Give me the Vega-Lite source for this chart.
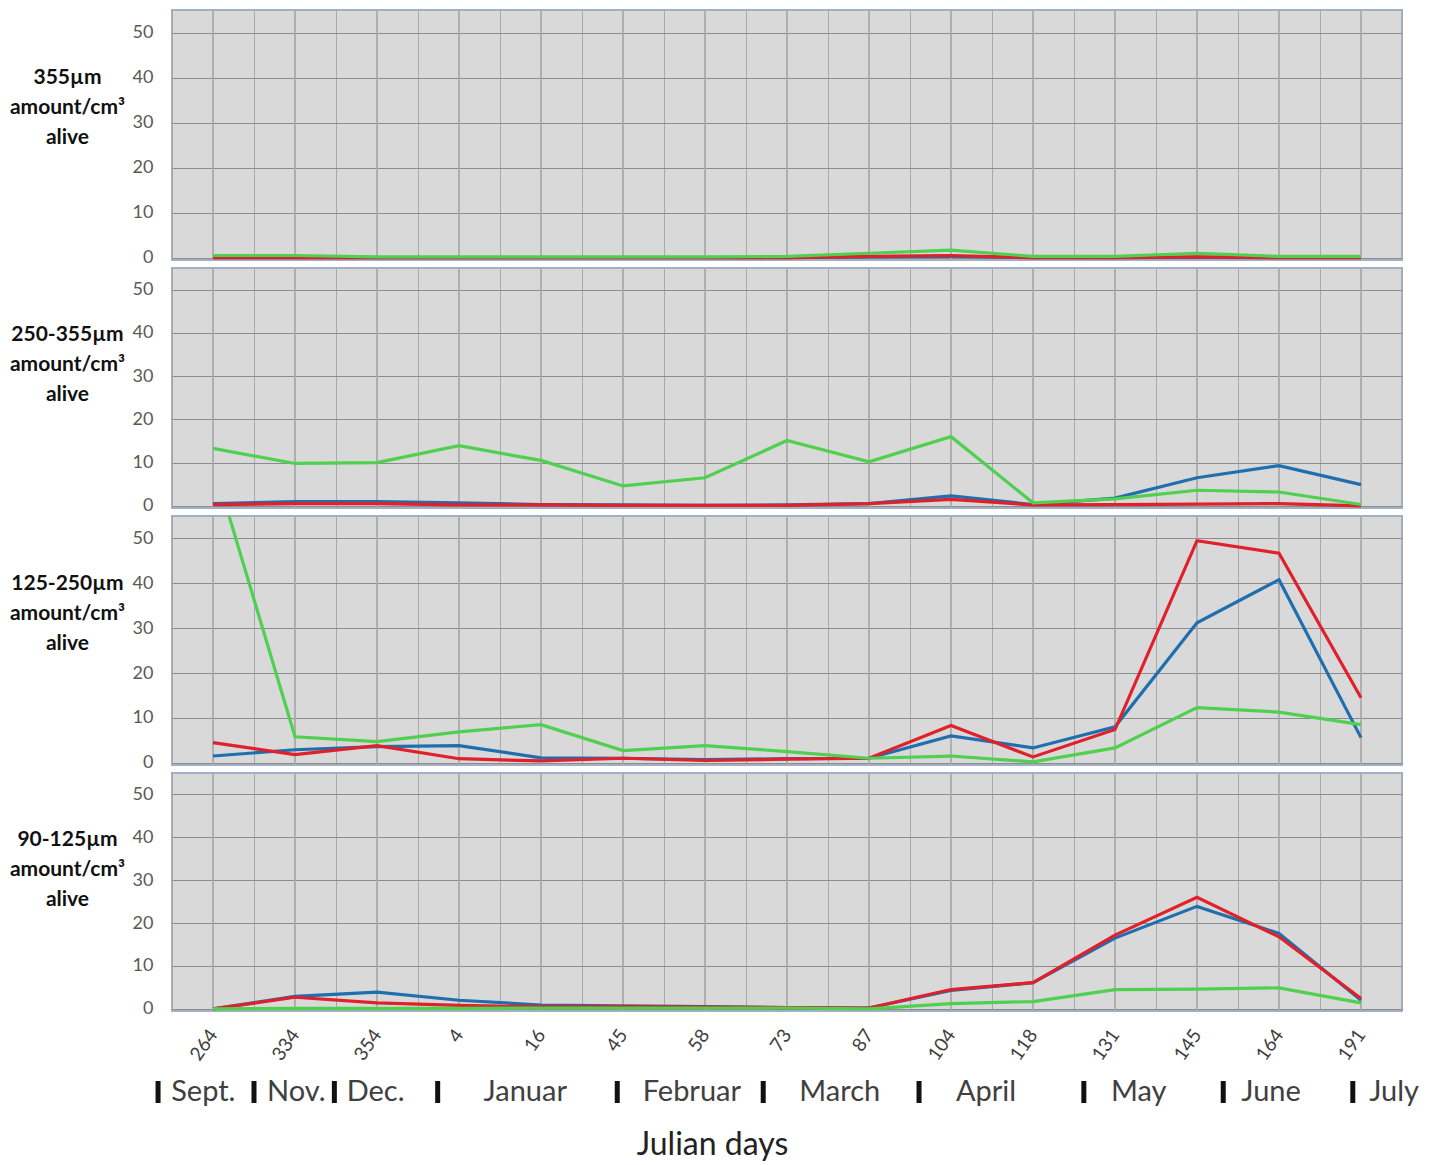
{
  "$schema": "https://vega.github.io/schema/vega-lite/v6.json",
  "background": "white",
  "padding": {"left": 8, "top": 8, "right": 5, "bottom": 5},
  "config": {
    "font": "Lato",
    "view": {"fill": "#d9d9d9", "stroke": "#a3b0c4", "strokeWidth": 2},
    "axis": {"labelFlush": false, "labelOverlap": false}
  },
  "datasets": {
    "months": [
      {"month": "Sept.", "bar": -0.67, "tpos": -0.51},
      {"month": "Nov.", "bar": 0.5, "tpos": 0.66},
      {"month": "Dec.", "bar": 1.48, "tpos": 1.63},
      {"month": "Januar", "bar": 2.74, "tpos": 3.3},
      {"month": "Februar", "bar": 4.93, "tpos": 5.24},
      {"month": "March", "bar": 6.71, "tpos": 7.15},
      {"month": "April", "bar": 8.61, "tpos": 9.06},
      {"month": "May", "bar": 10.62, "tpos": 10.95},
      {"month": "June", "bar": 12.32, "tpos": 12.54},
      {"month": "July", "bar": 13.9, "tpos": 14.1}
    ],
    "main": [
      {"panel": "p1", "series": "blue", "day": "264", "value": 0},
      {"panel": "p1", "series": "blue", "day": "334", "value": 0},
      {"panel": "p1", "series": "blue", "day": "354", "value": 0},
      {"panel": "p1", "series": "blue", "day": "4", "value": 0},
      {"panel": "p1", "series": "blue", "day": "16", "value": 0},
      {"panel": "p1", "series": "blue", "day": "45", "value": 0},
      {"panel": "p1", "series": "blue", "day": "58", "value": 0},
      {"panel": "p1", "series": "blue", "day": "73", "value": 0},
      {"panel": "p1", "series": "blue", "day": "87", "value": 0.2},
      {"panel": "p1", "series": "blue", "day": "104", "value": 0.3},
      {"panel": "p1", "series": "blue", "day": "118", "value": 0},
      {"panel": "p1", "series": "blue", "day": "131", "value": 0},
      {"panel": "p1", "series": "blue", "day": "145", "value": 0.1},
      {"panel": "p1", "series": "blue", "day": "164", "value": 0},
      {"panel": "p1", "series": "blue", "day": "191", "value": 0},
      {"panel": "p1", "series": "red", "day": "264", "value": 0},
      {"panel": "p1", "series": "red", "day": "334", "value": 0},
      {"panel": "p1", "series": "red", "day": "354", "value": 0},
      {"panel": "p1", "series": "red", "day": "4", "value": 0},
      {"panel": "p1", "series": "red", "day": "16", "value": 0},
      {"panel": "p1", "series": "red", "day": "45", "value": 0},
      {"panel": "p1", "series": "red", "day": "58", "value": 0},
      {"panel": "p1", "series": "red", "day": "73", "value": 0},
      {"panel": "p1", "series": "red", "day": "87", "value": 0.3},
      {"panel": "p1", "series": "red", "day": "104", "value": 0.5},
      {"panel": "p1", "series": "red", "day": "118", "value": 0},
      {"panel": "p1", "series": "red", "day": "131", "value": 0},
      {"panel": "p1", "series": "red", "day": "145", "value": 0.2},
      {"panel": "p1", "series": "red", "day": "164", "value": 0},
      {"panel": "p1", "series": "red", "day": "191", "value": 0},
      {"panel": "p1", "series": "green", "day": "264", "value": 0.5},
      {"panel": "p1", "series": "green", "day": "334", "value": 0.5},
      {"panel": "p1", "series": "green", "day": "354", "value": 0.2},
      {"panel": "p1", "series": "green", "day": "4", "value": 0.2},
      {"panel": "p1", "series": "green", "day": "16", "value": 0.2},
      {"panel": "p1", "series": "green", "day": "45", "value": 0.2},
      {"panel": "p1", "series": "green", "day": "58", "value": 0.2},
      {"panel": "p1", "series": "green", "day": "73", "value": 0.3},
      {"panel": "p1", "series": "green", "day": "87", "value": 1.0},
      {"panel": "p1", "series": "green", "day": "104", "value": 1.7},
      {"panel": "p1", "series": "green", "day": "118", "value": 0.3},
      {"panel": "p1", "series": "green", "day": "131", "value": 0.3},
      {"panel": "p1", "series": "green", "day": "145", "value": 1.0},
      {"panel": "p1", "series": "green", "day": "164", "value": 0.3},
      {"panel": "p1", "series": "green", "day": "191", "value": 0.3},

      {"panel": "p2", "series": "blue", "day": "264", "value": 0.5},
      {"panel": "p2", "series": "blue", "day": "334", "value": 1.0},
      {"panel": "p2", "series": "blue", "day": "354", "value": 1.0},
      {"panel": "p2", "series": "blue", "day": "4", "value": 0.7},
      {"panel": "p2", "series": "blue", "day": "16", "value": 0.3},
      {"panel": "p2", "series": "blue", "day": "45", "value": 0.2},
      {"panel": "p2", "series": "blue", "day": "58", "value": 0.1},
      {"panel": "p2", "series": "blue", "day": "73", "value": 0.2},
      {"panel": "p2", "series": "blue", "day": "87", "value": 0.5},
      {"panel": "p2", "series": "blue", "day": "104", "value": 2.3},
      {"panel": "p2", "series": "blue", "day": "118", "value": 0.3},
      {"panel": "p2", "series": "blue", "day": "131", "value": 1.8},
      {"panel": "p2", "series": "blue", "day": "145", "value": 6.5},
      {"panel": "p2", "series": "blue", "day": "164", "value": 9.3},
      {"panel": "p2", "series": "blue", "day": "191", "value": 4.9},
      {"panel": "p2", "series": "red", "day": "264", "value": 0.3},
      {"panel": "p2", "series": "red", "day": "334", "value": 0.5},
      {"panel": "p2", "series": "red", "day": "354", "value": 0.5},
      {"panel": "p2", "series": "red", "day": "4", "value": 0.2},
      {"panel": "p2", "series": "red", "day": "16", "value": 0.2},
      {"panel": "p2", "series": "red", "day": "45", "value": 0.1},
      {"panel": "p2", "series": "red", "day": "58", "value": 0.1},
      {"panel": "p2", "series": "red", "day": "73", "value": 0.1},
      {"panel": "p2", "series": "red", "day": "87", "value": 0.5},
      {"panel": "p2", "series": "red", "day": "104", "value": 1.5},
      {"panel": "p2", "series": "red", "day": "118", "value": 0.2},
      {"panel": "p2", "series": "red", "day": "131", "value": 0.3},
      {"panel": "p2", "series": "red", "day": "145", "value": 0.4},
      {"panel": "p2", "series": "red", "day": "164", "value": 0.5},
      {"panel": "p2", "series": "red", "day": "191", "value": 0},
      {"panel": "p2", "series": "green", "day": "264", "value": 13.3},
      {"panel": "p2", "series": "green", "day": "334", "value": 9.8},
      {"panel": "p2", "series": "green", "day": "354", "value": 10.0},
      {"panel": "p2", "series": "green", "day": "4", "value": 13.9},
      {"panel": "p2", "series": "green", "day": "16", "value": 10.5},
      {"panel": "p2", "series": "green", "day": "45", "value": 4.6},
      {"panel": "p2", "series": "green", "day": "58", "value": 6.5},
      {"panel": "p2", "series": "green", "day": "73", "value": 15.1},
      {"panel": "p2", "series": "green", "day": "87", "value": 10.2},
      {"panel": "p2", "series": "green", "day": "104", "value": 16.0},
      {"panel": "p2", "series": "green", "day": "118", "value": 0.7},
      {"panel": "p2", "series": "green", "day": "131", "value": 1.6},
      {"panel": "p2", "series": "green", "day": "145", "value": 3.6},
      {"panel": "p2", "series": "green", "day": "164", "value": 3.2},
      {"panel": "p2", "series": "green", "day": "191", "value": 0.3},

      {"panel": "p3", "series": "blue", "day": "264", "value": 1.5},
      {"panel": "p3", "series": "blue", "day": "334", "value": 2.9},
      {"panel": "p3", "series": "blue", "day": "354", "value": 3.6},
      {"panel": "p3", "series": "blue", "day": "4", "value": 3.8},
      {"panel": "p3", "series": "blue", "day": "16", "value": 1.1},
      {"panel": "p3", "series": "blue", "day": "45", "value": 1.0},
      {"panel": "p3", "series": "blue", "day": "58", "value": 0.7},
      {"panel": "p3", "series": "blue", "day": "73", "value": 0.9},
      {"panel": "p3", "series": "blue", "day": "87", "value": 1.0},
      {"panel": "p3", "series": "blue", "day": "104", "value": 6.0},
      {"panel": "p3", "series": "blue", "day": "118", "value": 3.3},
      {"panel": "p3", "series": "blue", "day": "131", "value": 8.0},
      {"panel": "p3", "series": "blue", "day": "145", "value": 31.2},
      {"panel": "p3", "series": "blue", "day": "164", "value": 40.8},
      {"panel": "p3", "series": "blue", "day": "191", "value": 5.6},
      {"panel": "p3", "series": "red", "day": "264", "value": 4.5},
      {"panel": "p3", "series": "red", "day": "334", "value": 1.8},
      {"panel": "p3", "series": "red", "day": "354", "value": 3.8},
      {"panel": "p3", "series": "red", "day": "4", "value": 0.9},
      {"panel": "p3", "series": "red", "day": "16", "value": 0.4},
      {"panel": "p3", "series": "red", "day": "45", "value": 1.0},
      {"panel": "p3", "series": "red", "day": "58", "value": 0.5},
      {"panel": "p3", "series": "red", "day": "73", "value": 0.8},
      {"panel": "p3", "series": "red", "day": "87", "value": 1.0},
      {"panel": "p3", "series": "red", "day": "104", "value": 8.3},
      {"panel": "p3", "series": "red", "day": "118", "value": 1.3},
      {"panel": "p3", "series": "red", "day": "131", "value": 7.4},
      {"panel": "p3", "series": "red", "day": "145", "value": 49.5},
      {"panel": "p3", "series": "red", "day": "164", "value": 46.7},
      {"panel": "p3", "series": "red", "day": "191", "value": 14.5},
      {"panel": "p3", "series": "green", "day": "264", "value": 67},
      {"panel": "p3", "series": "green", "day": "334", "value": 5.8},
      {"panel": "p3", "series": "green", "day": "354", "value": 4.7},
      {"panel": "p3", "series": "green", "day": "4", "value": 6.9},
      {"panel": "p3", "series": "green", "day": "16", "value": 8.5},
      {"panel": "p3", "series": "green", "day": "45", "value": 2.7},
      {"panel": "p3", "series": "green", "day": "58", "value": 3.8},
      {"panel": "p3", "series": "green", "day": "73", "value": 2.5},
      {"panel": "p3", "series": "green", "day": "87", "value": 1.0},
      {"panel": "p3", "series": "green", "day": "104", "value": 1.5},
      {"panel": "p3", "series": "green", "day": "118", "value": 0.2},
      {"panel": "p3", "series": "green", "day": "131", "value": 3.3},
      {"panel": "p3", "series": "green", "day": "145", "value": 12.3},
      {"panel": "p3", "series": "green", "day": "164", "value": 11.3},
      {"panel": "p3", "series": "green", "day": "191", "value": 8.5},

      {"panel": "p4", "series": "blue", "day": "264", "value": 0},
      {"panel": "p4", "series": "blue", "day": "334", "value": 2.9},
      {"panel": "p4", "series": "blue", "day": "354", "value": 3.9},
      {"panel": "p4", "series": "blue", "day": "4", "value": 2.0},
      {"panel": "p4", "series": "blue", "day": "16", "value": 0.9},
      {"panel": "p4", "series": "blue", "day": "45", "value": 0.7},
      {"panel": "p4", "series": "blue", "day": "58", "value": 0.5},
      {"panel": "p4", "series": "blue", "day": "73", "value": 0.3},
      {"panel": "p4", "series": "blue", "day": "87", "value": 0.2},
      {"panel": "p4", "series": "blue", "day": "104", "value": 4.3},
      {"panel": "p4", "series": "blue", "day": "118", "value": 6.1},
      {"panel": "p4", "series": "blue", "day": "131", "value": 16.5},
      {"panel": "p4", "series": "blue", "day": "145", "value": 23.9},
      {"panel": "p4", "series": "blue", "day": "164", "value": 17.6},
      {"panel": "p4", "series": "blue", "day": "191", "value": 2.0},
      {"panel": "p4", "series": "red", "day": "264", "value": 0},
      {"panel": "p4", "series": "red", "day": "334", "value": 2.7},
      {"panel": "p4", "series": "red", "day": "354", "value": 1.4},
      {"panel": "p4", "series": "red", "day": "4", "value": 0.8},
      {"panel": "p4", "series": "red", "day": "16", "value": 0.5},
      {"panel": "p4", "series": "red", "day": "45", "value": 0.5},
      {"panel": "p4", "series": "red", "day": "58", "value": 0.4},
      {"panel": "p4", "series": "red", "day": "73", "value": 0.3},
      {"panel": "p4", "series": "red", "day": "87", "value": 0.2},
      {"panel": "p4", "series": "red", "day": "104", "value": 4.5},
      {"panel": "p4", "series": "red", "day": "118", "value": 6.1},
      {"panel": "p4", "series": "red", "day": "131", "value": 17.2},
      {"panel": "p4", "series": "red", "day": "145", "value": 26.0},
      {"panel": "p4", "series": "red", "day": "164", "value": 16.8},
      {"panel": "p4", "series": "red", "day": "191", "value": 2.4},
      {"panel": "p4", "series": "green", "day": "264", "value": 0},
      {"panel": "p4", "series": "green", "day": "334", "value": 0.1},
      {"panel": "p4", "series": "green", "day": "354", "value": 0.1},
      {"panel": "p4", "series": "green", "day": "4", "value": 0.1},
      {"panel": "p4", "series": "green", "day": "16", "value": 0.2},
      {"panel": "p4", "series": "green", "day": "45", "value": 0.2},
      {"panel": "p4", "series": "green", "day": "58", "value": 0.2},
      {"panel": "p4", "series": "green", "day": "73", "value": 0.2},
      {"panel": "p4", "series": "green", "day": "87", "value": 0},
      {"panel": "p4", "series": "green", "day": "104", "value": 1.2},
      {"panel": "p4", "series": "green", "day": "118", "value": 1.7},
      {"panel": "p4", "series": "green", "day": "131", "value": 4.5},
      {"panel": "p4", "series": "green", "day": "145", "value": 4.6},
      {"panel": "p4", "series": "green", "day": "164", "value": 4.9},
      {"panel": "p4", "series": "green", "day": "191", "value": 1.4}
    ]
  },
  "data": {"name": "main"},
  "spacing": -4,
  "vconcat": [
    {
      "width": 1230, "height": 250,
      "transform": [{"filter": {"field": "panel", "equal": "p1"}}],
      "encoding": {
        "x": {"field": "day", "type": "ordinal", "bandPosition": 0.5, "sort": ["264","334","354","4","16","45","58","73","87","104","118","131","145","164","191"], "scale": {"type": "band", "paddingInner": 0, "paddingOuter": 0},
          "axis": {"labels": false, "ticks": false, "domain": false, "title": null, "grid": true, "tickBand": "extent", "gridColor": "#a9a9a9"}}
      },
      "layer": [
        {"mark": {"type": "rule", "color": "#a9a9a9", "strokeWidth": 1}, "encoding": {}},
        {
          "mark": {"type": "line", "strokeWidth": 3.2, "clip": true},
          "encoding": {
            "y": {"field": "value", "type": "quantitative", "scale": {"domain": [-0.5, 55], "nice": false, "zero": false},
              "axis": {"title": ["355µm", "amount/cm³", "alive"], "titleAngle": 0, "titleAlign": "center", "titleBaseline": "middle", "titleX": -105, "titleY": 67, "titleFont": "Lato", "titleFontSize": 21, "titleFontWeight": "bold", "titleColor": "#111111", "titleLineHeight": 30,
                "values": [0, 10, 20, 30, 40, 50], "labelFont": "Lato", "labelFontSize": 18, "labelColor": "#595959", "labelPadding": 19, "ticks": false, "domain": false, "grid": true, "gridColor": "#8c8c8c"}},
            "color": {"field": "series", "type": "nominal", "scale": {"domain": ["blue", "red", "green"], "range": ["#1f6fae", "#e0202a", "#4fd04f"]}, "legend": null}
          }
        }
      ]
    },
    {
      "width": 1230, "height": 240,
      "transform": [{"filter": {"field": "panel", "equal": "p2"}}],
      "encoding": {
        "x": {"field": "day", "type": "ordinal", "bandPosition": 0.5, "sort": ["264","334","354","4","16","45","58","73","87","104","118","131","145","164","191"], "scale": {"type": "band", "paddingInner": 0, "paddingOuter": 0},
          "axis": {"labels": false, "ticks": false, "domain": false, "title": null, "grid": true, "tickBand": "extent", "gridColor": "#a9a9a9"}}
      },
      "layer": [
        {"mark": {"type": "rule", "color": "#a9a9a9", "strokeWidth": 1}, "encoding": {}},
        {
          "mark": {"type": "line", "strokeWidth": 3.2, "clip": true},
          "encoding": {
            "y": {"field": "value", "type": "quantitative", "scale": {"domain": [-0.5, 55], "nice": false, "zero": false},
              "axis": {"title": ["250-355µm", "amount/cm³", "alive"], "titleAngle": 0, "titleAlign": "center", "titleBaseline": "middle", "titleX": -105, "titleY": 66, "titleFont": "Lato", "titleFontSize": 21, "titleFontWeight": "bold", "titleColor": "#111111", "titleLineHeight": 30,
                "values": [0, 10, 20, 30, 40, 50], "labelFont": "Lato", "labelFontSize": 18, "labelColor": "#595959", "labelPadding": 19, "ticks": false, "domain": false, "grid": true, "gridColor": "#8c8c8c"}},
            "color": {"field": "series", "type": "nominal", "scale": {"domain": ["blue", "red", "green"], "range": ["#1f6fae", "#e0202a", "#4fd04f"]}, "legend": null}
          }
        }
      ]
    },
    {
      "width": 1230, "height": 249,
      "transform": [{"filter": {"field": "panel", "equal": "p3"}}],
      "encoding": {
        "x": {"field": "day", "type": "ordinal", "bandPosition": 0.5, "sort": ["264","334","354","4","16","45","58","73","87","104","118","131","145","164","191"], "scale": {"type": "band", "paddingInner": 0, "paddingOuter": 0},
          "axis": {"labels": false, "ticks": false, "domain": false, "title": null, "grid": true, "tickBand": "extent", "gridColor": "#a9a9a9"}}
      },
      "layer": [
        {"mark": {"type": "rule", "color": "#a9a9a9", "strokeWidth": 1}, "encoding": {}},
        {
          "mark": {"type": "line", "strokeWidth": 3.2, "clip": true},
          "encoding": {
            "y": {"field": "value", "type": "quantitative", "scale": {"domain": [-0.5, 55], "nice": false, "zero": false},
              "axis": {"title": ["125-250µm", "amount/cm³", "alive"], "titleAngle": 0, "titleAlign": "center", "titleBaseline": "middle", "titleX": -105, "titleY": 67, "titleFont": "Lato", "titleFontSize": 21, "titleFontWeight": "bold", "titleColor": "#111111", "titleLineHeight": 30,
                "values": [0, 10, 20, 30, 40, 50], "labelFont": "Lato", "labelFontSize": 18, "labelColor": "#595959", "labelPadding": 19, "ticks": false, "domain": false, "grid": true, "gridColor": "#8c8c8c"}},
            "color": {"field": "series", "type": "nominal", "scale": {"domain": ["blue", "red", "green"], "range": ["#1f6fae", "#e0202a", "#4fd04f"]}, "legend": null}
          }
        }
      ]
    },
    {
      "width": 1230, "height": 238,
      "transform": [{"filter": {"field": "panel", "equal": "p4"}}],
      "encoding": {
        "x": {"field": "day", "type": "ordinal", "bandPosition": 0.5, "sort": ["264","334","354","4","16","45","58","73","87","104","118","131","145","164","191"], "scale": {"type": "band", "paddingInner": 0, "paddingOuter": 0},
          "axis": {"title": null, "ticks": false, "domain": false, "grid": true, "tickBand": "extent", "gridColor": "#a9a9a9",
            "labelAngle": -55, "labelAlign": "right", "labelBaseline": "middle", "labelPadding": 20, "labelFont": "Lato", "labelFontSize": 19, "labelColor": "#404040"}}
      },
      "layer": [
        {"mark": {"type": "rule", "color": "#a9a9a9", "strokeWidth": 1}, "encoding": {}},
        {
          "mark": {"type": "line", "strokeWidth": 3.2, "clip": true},
          "encoding": {
            "y": {"field": "value", "type": "quantitative", "scale": {"domain": [-0.5, 55], "nice": false, "zero": false},
              "axis": {"title": ["90-125µm", "amount/cm³", "alive"], "titleAngle": 0, "titleAlign": "center", "titleBaseline": "middle", "titleX": -105, "titleY": 66, "titleFont": "Lato", "titleFontSize": 21, "titleFontWeight": "bold", "titleColor": "#111111", "titleLineHeight": 30,
                "values": [0, 10, 20, 30, 40, 50], "labelFont": "Lato", "labelFontSize": 18, "labelColor": "#595959", "labelPadding": 19, "ticks": false, "domain": false, "grid": true, "gridColor": "#8c8c8c"}},
            "color": {"field": "series", "type": "nominal", "scale": {"domain": ["blue", "red", "green"], "range": ["#1f6fae", "#e0202a", "#4fd04f"]}, "legend": null}
          }
        }
      ]
    },
    {
      "width": 1230, "height": 54,
      "data": {"name": "months"},
      "view": {"fill": null, "stroke": null},
      "layer": [
        {
          "mark": {"type": "tick", "thickness": 5, "size": 22, "color": "#111111", "opacity": 1, "orient": "vertical"},
          "encoding": {
            "x": {"field": "bar", "type": "quantitative", "scale": {"domain": [-0.5, 14.5], "nice": false, "zero": false},
              "axis": {"labels": false, "ticks": false, "domain": false, "grid": false, "title": "Julian days", "titleFont": "Lato", "titleFontSize": 32, "titleFontWeight": "normal", "titleColor": "#222222", "titleX": 540, "titleY": 25, "titleAlign": "center", "titleBaseline": "middle"}}
          }
        },
        {
          "mark": {"type": "text", "align": "left", "baseline": "middle", "font": "Lato", "fontSize": 29, "color": "#404040"},
          "encoding": {
            "x": {"field": "tpos", "type": "quantitative"},
            "text": {"field": "month"}
          }
        }
      ]
    }
  ]
}
